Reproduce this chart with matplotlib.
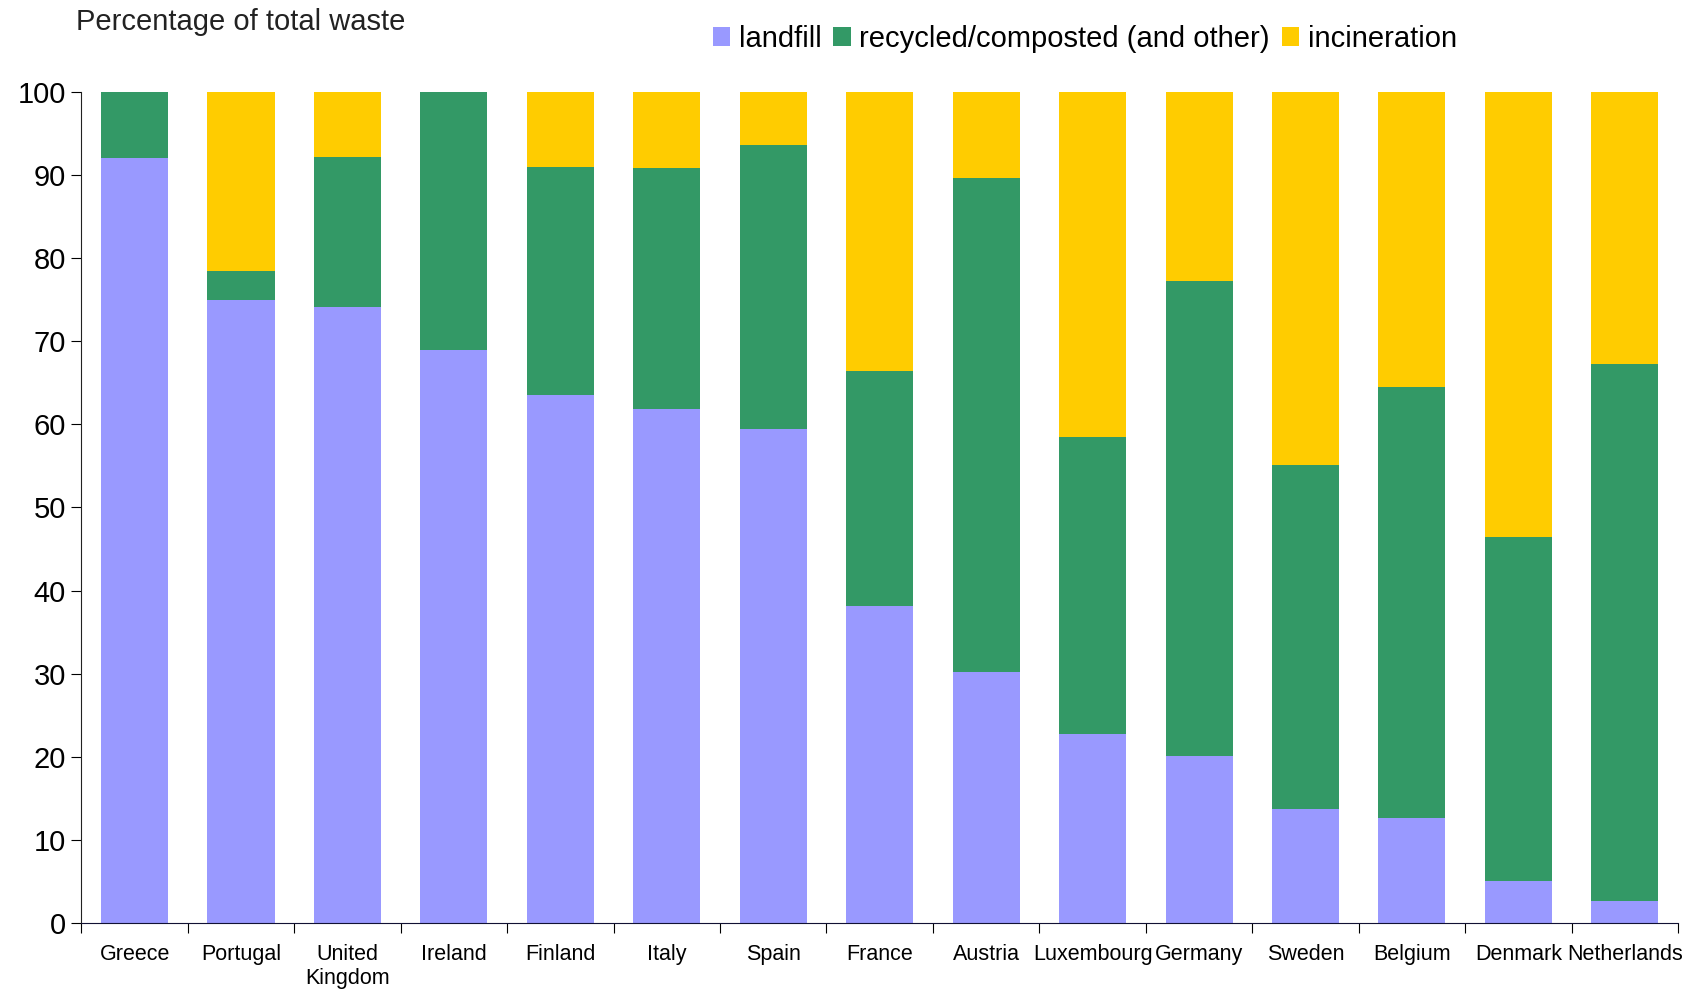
import matplotlib
matplotlib.use("Agg")
import matplotlib.pyplot as plt
import numpy as np

plt.rcParams['font.family'] = ['Liberation Sans', 'DejaVu Sans']

countries = ['Greece', 'Portugal', 'United\nKingdom', 'Ireland', 'Finland', 'Italy',
             'Spain', 'France', 'Austria', 'Luxembourg', 'Germany', 'Sweden',
             'Belgium', 'Denmark', 'Netherlands']
landfill = [92.0, 75.0, 74.1, 69.0, 63.5, 61.8, 59.4, 38.2, 30.2, 22.8, 20.1, 13.7, 12.6, 5.1, 2.7]
recycled = [8.0, 3.5, 18.1, 31.0, 27.5, 29.0, 34.2, 28.2, 59.4, 35.7, 57.1, 41.4, 51.9, 41.3, 64.6]
incineration = [0.0, 21.5, 7.8, 0.0, 9.0, 9.2, 6.4, 33.6, 10.4, 41.5, 22.8, 44.9, 35.5, 53.6, 32.7]

fig = plt.figure(figsize=(16.95, 9.98), dpi=100)
ax = fig.add_axes([0.048, 0.075, 0.942, 0.833])

x = np.arange(len(countries))
width = 0.63
landfill = np.array(landfill)
recycled = np.array(recycled)
incineration = np.array(incineration)

# stacked bars
ax.bar(x, landfill, width, color='#9999FF', label='landfill')
ax.bar(x, recycled, width, bottom=landfill, color='#339966', label='recycled/composted (and other)')
ax.bar(x, incineration, width, bottom=landfill + recycled, color='#FFCC00', label='incineration')

ax.set_xlim(-0.5, len(countries) - 0.5)
ax.set_ylim(0, 100)
ax.set_yticks(range(0, 101, 10))
ax.tick_params(axis='y', labelsize=21, direction='out', length=7, pad=4)

# category labels centred, ticks on the boundaries
ax.set_xticks(np.arange(-0.5, len(countries), 1.0))
ax.set_xticklabels([])
ax.set_xticks(x, minor=True)
ax.set_xticklabels(countries, minor=True, fontsize=15.5, va='top')
ax.tick_params(axis='x', which='minor', length=0, pad=15)
ax.tick_params(axis='x', which='major', direction='out', length=7)

for s in ['top', 'right']:
    ax.spines[s].set_visible(False)
ax.spines['left'].set_color('#222222')
ax.spines['bottom'].set_color('#111133')

fig.text(0.045, 0.978, 'Percentage of total waste', fontsize=21, va='center', ha='left', color='#222222')
fig.legend(loc='center', bbox_to_anchor=(0.64, 0.961), ncol=3, frameon=False, fontsize=21,
           handlelength=0.6, handleheight=0.6, handletextpad=0.3, columnspacing=0.4)

fig.savefig('out.png', dpi=100)
